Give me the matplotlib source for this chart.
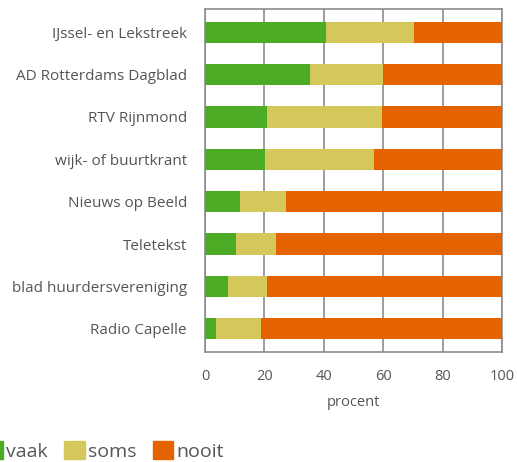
import numpy as np
import matplotlib.pyplot as plt
from matplotlib.patches import Patch

plt.rcParams['font.family'] = ['Open Sans', 'DejaVu Sans']

bronnen = ["IJssel- en Lekstreek", "AD Rotterdams Dagblad", "RTV Rijnmond",
           "wijk- of buurtkrant", "Nieuws op Beeld", "Teletekst",
           "blad huurdersvereniging", "Radio Capelle"]
vaak = [40.6, 35.4, 20.9, 20.2, 11.8, 10.4, 7.7, 3.7]
soms = [29.8, 24.5, 38.7, 36.7, 15.5, 13.5, 13.2, 15.2]
nooit = [29.6, 40.1, 40.4, 43.1, 72.7, 76.1, 79.1, 81.1]

kleuren = ["#4cac26", "#d5c85a", "#e46200"]
tekst = "#555555"

fig = plt.figure(figsize=(5.17, 4.62), dpi=100)
ax = fig.add_axes([205/517, 1 - 352/462, 297/517, 343/462])

y = np.arange(len(bronnen))
ax.barh(y, vaak, height=0.5, color=kleuren[0], zorder=3)
ax.barh(y, soms, left=vaak, height=0.5, color=kleuren[1], zorder=3)
ax.barh(y, nooit, left=np.array(vaak) + np.array(soms), height=0.5,
        color=kleuren[2], zorder=3)

ax.set_xlim(0, 100)
ax.set_ylim(len(bronnen) - 0.45, -0.55)
ax.set_yticks(y)
ax.set_yticklabels(bronnen)
ax.set_xticks([0, 20, 40, 60, 80, 100])
ax.grid(axis='x', color='#8c8c8c', linewidth=1.2, zorder=0)
ax.tick_params(length=0, colors=tekst)
ax.tick_params(axis='y', labelsize=11, pad=13)
ax.tick_params(axis='x', labelsize=10.5, pad=12)
for s in ax.spines.values():
    s.set_color('#8c8c8c')
    s.set_linewidth(1.2)
ax.set_xlabel("procent", fontsize=10.5, color=tekst, labelpad=8)

handles = [Patch(color=c) for c in kleuren]
fig.legend(handles, ["vaak", "soms", "nooit"], loc='lower left',
           bbox_to_anchor=(-17/517, 1/462), ncol=3, frameon=False,
           borderpad=0, borderaxespad=0,
           fontsize=14, handlelength=1.05, handleheight=1.05,
           handletextpad=0.15, columnspacing=0.85, labelcolor=tekst)

fig.savefig("out.png", dpi=100)
